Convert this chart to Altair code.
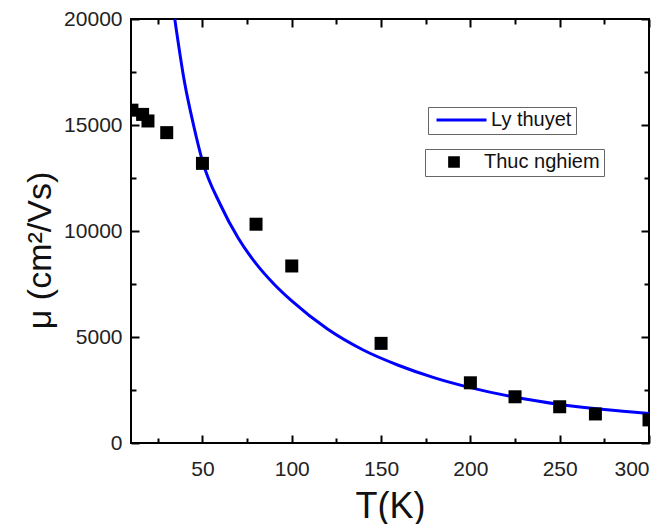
import altair as alt
import pandas as pd

# Theoretical curve
T_theory = [34.5, 40, 45, 50, 60, 70, 80, 90, 100, 120, 140, 160, 180, 200, 225, 250, 275, 300]
mu_theory = [20000, 17000, 15000, 13300, 11250, 9670, 8460, 7500, 6700, 5375, 4386, 3656, 3072, 2610, 2156, 1820, 1575, 1393]

# Experimental points
T_exp = [10.5, 16.5, 19.5, 30, 50, 80, 100, 150, 200, 225, 250, 270, 300]
mu_exp = [15700, 15500, 15190, 14640, 13190, 10320, 8350, 4700, 2840, 2180, 1710, 1370, 1090]

x_major = [50, 100, 150, 200, 250, 300]
x_minor = [25, 75, 125, 175, 225, 275]
y_major = [0, 5000, 10000, 15000, 20000]
y_minor = [2500, 7500, 12500, 17500]

line_df = pd.DataFrame({"T": T_theory, "mu": mu_theory, "series": "Ly thuyet"})
pts_df = pd.DataFrame({"T": T_exp, "mu": mu_exp, "series": "Thuc nghiem"})

FONT = "Liberation Sans"
xs = alt.Scale(domain=[10, 300], nice=False, zero=False)
ys = alt.Scale(domain=[0, 20000], nice=False)


def tick_axis(orient, values, size):
    return alt.Axis(orient=orient, values=values, tickSize=size, offset=-size,
                    labels=False, title=None, grid=False, domain=False,
                    tickWidth=2, tickColor="black")


line = alt.Chart(line_df).mark_line(strokeWidth=3, interpolate="monotone").encode(
    x=alt.X("T:Q", scale=xs, axis=alt.Axis(
        orient="bottom", values=x_major, tickSize=8, offset=-8, labelPadding=15,
        format="d", grid=False, domain=False, tickWidth=2, tickColor="black",
        labelFont=FONT, labelFontSize=21, labelColor="#222",
        title="T(K)", titleFont=FONT, titleFontSize=36, titleFontWeight="normal",
        titleColor="#111", titleY=82, titleBaseline="alphabetic")),
    y=alt.Y("mu:Q", scale=ys, axis=alt.Axis(
        orient="left", values=y_major, tickSize=8, offset=-8, labelPadding=9,
        format="d", grid=False, domain=False, tickWidth=2, tickColor="black",
        labelFont=FONT, labelFontSize=21, labelColor="#222",
        title="μ (cm²/Vs)", titleFont=FONT, titleFontSize=34, titleFontWeight="normal",
        titleColor="#111", titleX=-98.5, titleY=231, titleAngle=270,
        titleBaseline="middle", titleAlign="center")),
    color=alt.Color("series:N", scale=alt.Scale(domain=["Ly thuyet"], range=["#0000ff"]),
                    legend=alt.Legend(title=None, orient="none", legendX=297, legendY=88,
                                      symbolType="stroke", symbolSize=2500, symbolStrokeWidth=3,
                                      clipHeight=18,
                                      labelFont=FONT, labelFontSize=20, labelColor="#111",
                                      padding=4, symbolOffset=3, labelOffset=3,
                                      strokeColor="#666", fillColor="white")),
)

pts = alt.Chart(pts_df).mark_point(filled=True, size=169, opacity=1, clip=True, color="black").encode(
    x=alt.X("T:Q", scale=xs, axis=tick_axis("bottom", x_minor, 5)),
    y=alt.Y("mu:Q", scale=ys, axis=tick_axis("left", y_minor, 5)),
    shape=alt.Shape("series:N", scale=alt.Scale(domain=["Thuc nghiem"], range=["square"]),
                    legend=alt.Legend(title=None, orient="none", legendX=294, legendY=130,
                                      symbolSize=137, symbolFillColor="black",
                                      symbolStrokeColor="black", clipHeight=18,
                                      labelFont=FONT, labelFontSize=20, labelColor="#111",
                                      padding=4, symbolOffset=15, labelOffset=20,
                                      strokeColor="#666", fillColor="white")),
)

top_right_major = alt.Chart(pts_df).mark_point(opacity=0).encode(
    x=alt.X("T:Q", scale=xs, axis=tick_axis("top", x_major, 8)),
    y=alt.Y("mu:Q", scale=ys, axis=tick_axis("right", y_major, 8)),
)

top_right_minor = alt.Chart(pts_df).mark_point(opacity=0).encode(
    x=alt.X("T:Q", scale=xs, axis=tick_axis("top", x_minor, 5)),
    y=alt.Y("mu:Q", scale=ys, axis=tick_axis("right", y_minor, 5)),
)

chart = alt.layer(line, pts, top_right_major, top_right_minor).resolve_axis(
    x="independent", y="independent"
).properties(
    width=518, height=424,
    autosize=alt.AutoSizeParams(type="none"),
    padding={"left": 123, "top": 11, "right": 11, "bottom": 81},
    background="white",
).configure_view(stroke="black", strokeWidth=2)

chart.save("out.html", embed_options={"renderer": "svg", "actions": False})
